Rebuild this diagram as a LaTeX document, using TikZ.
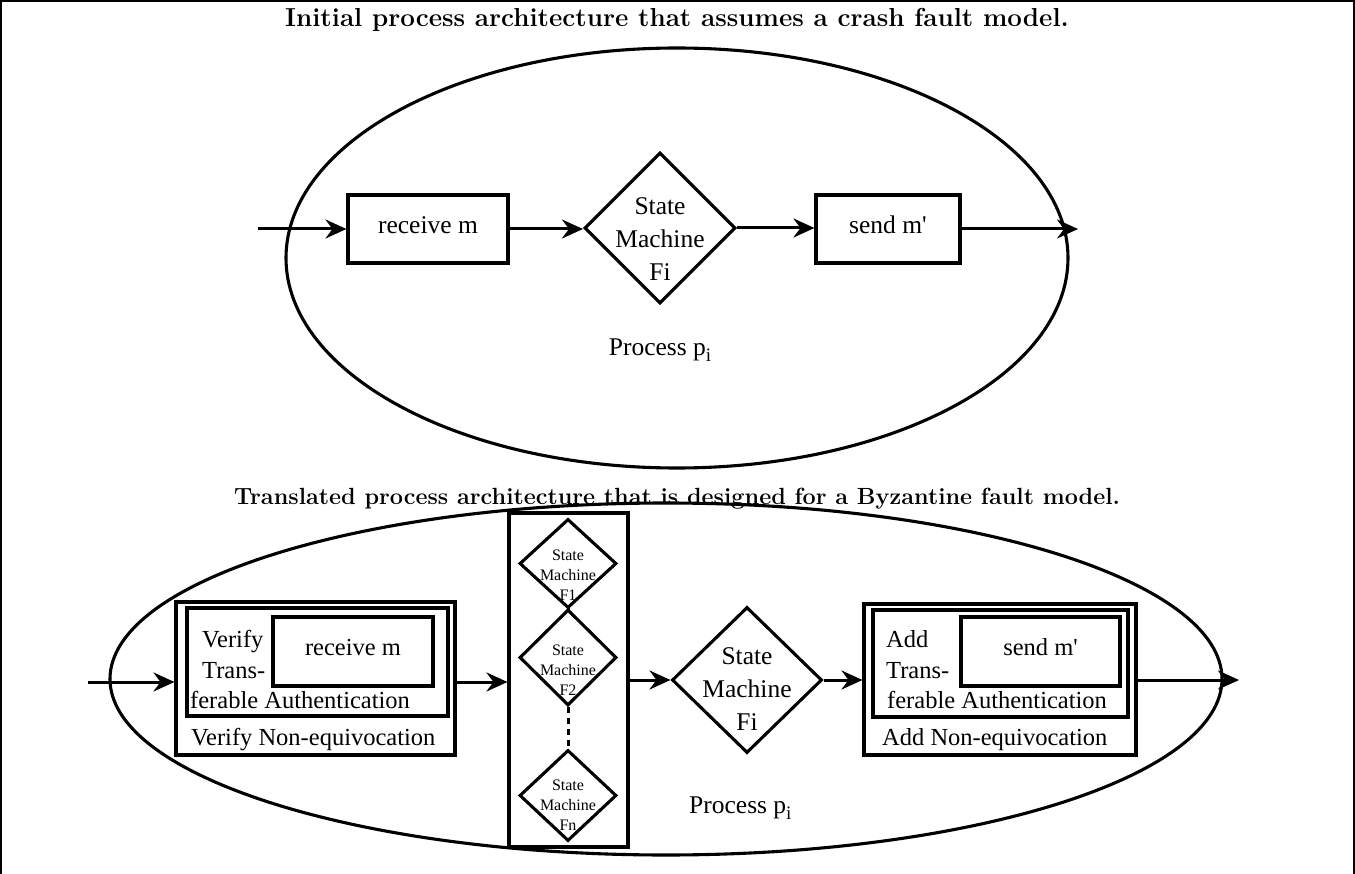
\documentclass[tikz,border=0pt]{standalone}
\usepackage{fontspec}
\newfontfamily\tms{Liberation Serif}
\usetikzlibrary{shapes.geometric,arrows.meta,calc}
\newcommand{\sbi}{\raisebox{-6pt}{\fontsize{19}{19}\selectfont i}}
\tikzset{
  box/.style={draw, line width=3.1pt, inner sep=0pt},
  dia/.style={draw, diamond, line width=3.1pt, inner sep=0pt},
  proc/.style={draw, ellipse, line width=3.1pt, inner sep=0pt},
  flow/.style={line width=3pt, -{Stealth[length=21pt,width=19pt,inset=7pt]}},
  big/.style={font=\tms\fontsize{25.5}{33}\selectfont, align=center},
  mid/.style={font=\tms\fontsize{24.5}{30}\selectfont},
  small/.style={font=\tms\fontsize{16}{20}\selectfont, align=center},
  ttla/.style={font=\bfseries\fontsize{26}{30}\selectfont},
  ttlb/.style={font=\bfseries\fontsize{23.4}{28}\selectfont}
}
\begin{document}
\begin{tikzpicture}[x=1pt,y=1pt]
\useasboundingbox (0,0) rectangle (1355,-874);
\draw[line width=2pt] (1,-874) -- (1,-1) -- (1354,-1) -- (1354,-874);
% titles
\node[ttla, anchor=base] (t1) at (677,-27) {Initial process architecture that assumes a crash fault model.};
\node[ttlb, anchor=base] (t2) at (677,-504) {Translated process architecture that is designed for a Byzantine fault model.};
% ---------- top ----------
\node[proc, minimum width=782pt, minimum height=420pt] (e1) at (677,-258) {};
\node[box, minimum width=160pt, minimum height=68pt] (r1) at (428,-229) {};
\node[big, anchor=base] (r1t) at (428,-234) {receive m};
\node[dia, minimum width=151pt, minimum height=151pt] (d1) at (660,-228) {};
\node[big] (d1t) at (660,-239) {State\\Machine\\Fi};
\node[box, minimum width=144pt, minimum height=68pt] (s1) at (888,-229) {};
\node[big, anchor=base] (s1t) at (888,-234) {send m'};
\node[big, anchor=base] (p1) at (660,-356) {Process p\sbi};
\coordinate (in1) at (258,-229);
\coordinate (out1) at (1078,-229);
\draw[flow] (in1) -- (r1.west);
\draw[flow] (r1.east) -- (r1.east -| d1.west);
\draw[flow] (d1.east) -- (d1.east -| s1.west);
\draw[flow] (s1.east) -- (out1);
% ---------- bottom ----------
\node[proc, minimum width=1112pt, minimum height=352pt] (e2) at (666,-679) {};
% left block
\node[box, minimum width=279pt, minimum height=153pt] (vo) at (315.5,-678.5) {};
\node[box, minimum width=261pt, minimum height=108pt] (vi) at (317.5,-662) {};
\node[box, minimum width=160pt, minimum height=69pt] (r2) at (353,-651.5) {};
\node[mid, anchor=base] (r2t) at (353,-655) {receive m};
\node[mid, anchor=base west, inner sep=0] (v1) at (202,-647) {Verify};
\node[mid, anchor=base west, inner sep=0] (v2) at (202,-678) {Trans-};
\node[mid, anchor=base west, inner sep=0] (v3) at (190,-708) {ferable Authentication};
\node[mid, anchor=base west, inner sep=0] (v4) at (191,-745) {Verify Non-equivocation};
% column of state machines
\node[box, minimum width=119pt, minimum height=334pt] (col) at (568.5,-680) {};
\node[dia, minimum width=97pt, minimum height=89pt] (f1) at (568,-563.5) {};
\node[small] (f1t) at (568,-575) {State\\Machine\\F1};
\node[dia, minimum width=97pt, minimum height=96pt] (f2) at (568,-657.5) {};
\node[small] (f2t) at (568,-670) {State\\Machine\\F2};
\node[dia, minimum width=97pt, minimum height=91pt] (fn) at (568,-795.5) {};
\node[small] (fnt) at (568,-805) {State\\Machine\\Fn};
\draw[line width=3pt] (f1.south) -- (f2.north);
\draw[line width=3pt, dash pattern=on 6pt off 5pt] (f2.south) -- (fn.north);
% big diamond
\node[dia, minimum width=150pt, minimum height=146pt] (d2) at (747,-680) {};
\node[big] (d2t) at (747,-689) {State\\Machine\\Fi};
% right block
\node[box, minimum width=272pt, minimum height=151pt] (ao) at (1000,-679.5) {};
\node[box, minimum width=255pt, minimum height=107pt] (ai) at (1000.5,-663.5) {};
\node[box, minimum width=159pt, minimum height=69pt] (s2) at (1040.5,-651.5) {};
\node[mid, anchor=base] (s2t) at (1040.5,-655) {send m'};
\node[mid, anchor=base west, inner sep=0] (a1) at (886,-647) {Add};
\node[mid, anchor=base west, inner sep=0] (a2) at (886,-678) {Trans-};
\node[mid, anchor=base west, inner sep=0] (a3) at (887,-708) {ferable Authentication};
\node[mid, anchor=base west, inner sep=0] (a4) at (882,-745) {Add Non-equivocation};
\node[big, anchor=base west, inner sep=0] (p2) at (689,-813) {Process p\sbi};
% arrows
\coordinate (in2) at (88,-682);
\coordinate (out2) at (1239,-680);
\draw[flow] (in2) -- (in2 -| vo.west);
\draw[flow] (vo.east |- in2) -- (in2 -| col.west);
\draw[flow] (col.east |- d2.west) -- (d2.west);
\draw[flow] (d2.east) -- (d2.east -| ao.west);
\draw[flow] (ao.east |- out2) -- (out2);
\end{tikzpicture}
\end{document}
